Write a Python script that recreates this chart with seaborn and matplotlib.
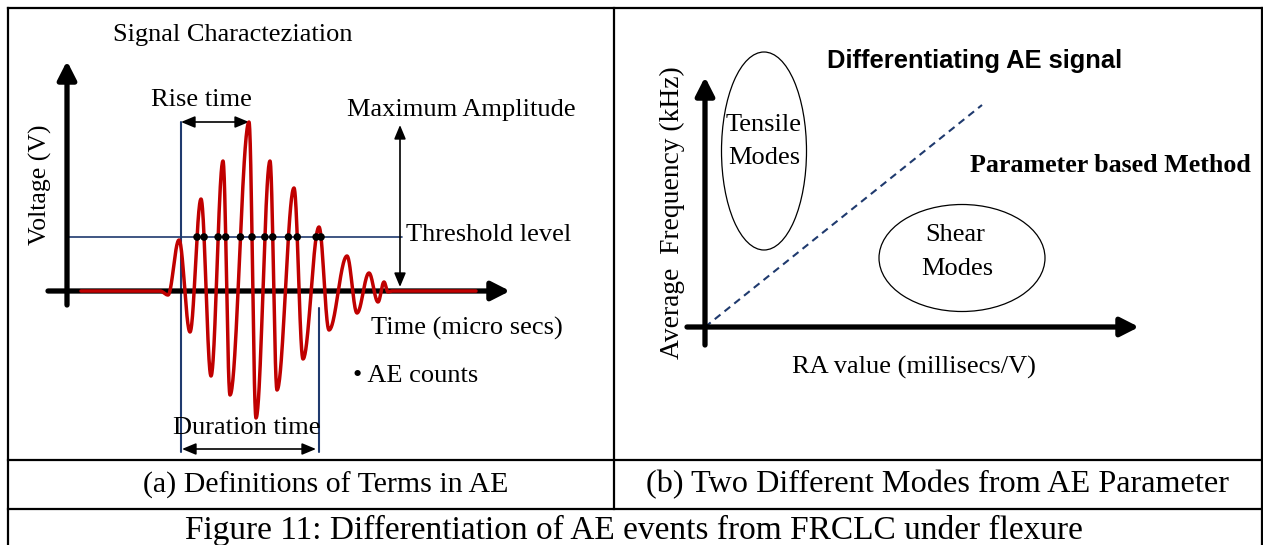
import numpy as np
import pandas as pd
import matplotlib
matplotlib.use("Agg")
import matplotlib.pyplot as plt
from matplotlib.patches import Ellipse
import seaborn as sns

# ---------------------------------------------------------------------------
# Panel (a): AE burst, turning points of the waveform (time in µs, volts)
burst_time = [1.4, 9.3, 10.1, 11.2, 12.3, 13.4, 14.4, 15.6, 16.3, 18.2, 18.9,
              20.3, 21.0, 22.7, 23.6, 25.2, 26.2, 28.0, 29.0, 30.2, 31.1,
              31.7, 32.1, 32.5, 40.9]
burst_volt = [0.0, 0.0, -0.4, 5.1, -4.1, 9.2, -8.5, 13.0, -10.4, 16.9, -12.7,
              13.0, -9.9, 10.3, -6.8, 6.4, -3.9, 3.5, -2.2, 1.8, -1.1,
              0.9, -0.1, 0.0, 0.0]
threshold = 5.4
rise_start = 11.4
duration_end = 25.2

# Panel (b): RA vs. average frequency regions
boundary_ra = [0.0, 27.7]
boundary_af = [0.0, 22.2]
tensile_centre, tensile_size = (5.9, 17.6), (8.5, 19.8)
shear_centre, shear_size = (25.7, 6.9), (16.6, 10.7)

# Captions
caption_a = "(a) Definitions of Terms in AE"
caption_b = "(b) Two Different Modes from AE Parameter"
figure_caption = "Figure 11: Differentiation of AE events from FRCLC under flexure"

# ---------------------------------------------------------------------------
sns.set_theme(style="white")
plt.rcParams["font.family"] = ["Liberation Serif", "DejaVu Serif"]
plt.rcParams["text.color"] = "black"

RED = "#c00000"
NAVY = "#1f3a6e"
W, H = 1263, 545
SERIF = 19


def smooth_burst(t, v, n=40):
    """Join turning points with half-cosine segments (flat at every extremum)."""
    ts, vs = [], []
    for i in range(len(t) - 1):
        s = np.linspace(0, 1, n, endpoint=False)
        ts.append(t[i] + (t[i + 1] - t[i]) * s)
        vs.append(v[i] + (v[i + 1] - v[i]) * (1 - np.cos(np.pi * s)) / 2)
    ts.append([t[-1]])
    vs.append([v[-1]])
    return np.concatenate(ts), np.concatenate(vs)


def arrow(ax, start, end, lw, both=False, scale=20, hl=0.5, hw=0.22, color="black"):
    style = "<|-|>" if both else "-|>"
    ax.annotate("", xy=end, xytext=start, annotation_clip=False,
                arrowprops=dict(arrowstyle=f"{style},head_length={hl},head_width={hw}",
                                lw=lw, color=color, mutation_scale=scale,
                                shrinkA=0, shrinkB=0))


fig = plt.figure(figsize=(W / 100, H / 100), dpi=100)

# Table frame around the two panels and the captions
frame = fig.add_axes([0, 0, 1, 1])
frame.set_xlim(0, W)
frame.set_ylim(H, 0)
frame.axis("off")
lk = dict(color="black", lw=1.6, solid_capstyle="projecting")
frame.plot([8, 1262], [8, 8], **lk)
frame.plot([8, 8], [8, H], **lk)
frame.plot([1262, 1262], [8, H], **lk)
frame.plot([8, 1262], [460, 460], **lk)
frame.plot([8, 1262], [509, 509], **lk)
frame.plot([614, 614], [8, 509], **lk)
frame.text(326, 485, caption_a, ha="center", va="center", fontsize=21.5)
frame.text(937, 485, caption_b, ha="center", va="center", fontsize=23.2)
frame.text(634, 530, figure_caption, ha="center", va="center", fontsize=24)

# ---------------------------------------------------------------------------
# Panel (a)
ax = fig.add_axes([8 / W, (H - 460) / H, (614 - 8) / W, (460 - 8) / H])

t_s, v_s = smooth_burst(burst_time, burst_volt)
wave = pd.DataFrame({"time": t_s, "volt": v_s})

# threshold crossings = AE counts
above = wave["volt"].to_numpy() > threshold
idx = np.where(above[1:] != above[:-1])[0]
t0, t1 = t_s[idx], t_s[idx + 1]
v0, v1 = v_s[idx], v_s[idx + 1]
cross = pd.DataFrame({"time": t0 + (threshold - v0) * (t1 - t0) / (v1 - v0),
                      "volt": threshold})

# axes arrows
arrow(ax, (-1.9, 0), (44.3, 0), lw=3.8, hl=0.55, hw=0.28)
arrow(ax, (0, -1.4), (0, 23.0), lw=3.8, hl=0.55, hw=0.28)

# threshold and timing guides
ax.plot([0, 33.5], [threshold, threshold], color=NAVY, lw=1.2)
ax.plot([rise_start, rise_start], [16.9, -16.1], color=NAVY, lw=1.5)
ax.plot([duration_end, duration_end], [-1.7, -16.1], color=NAVY, lw=1.5)

sns.lineplot(data=wave, x="time", y="volt", ax=ax, color=RED, lw=2.5,
             estimator=None, sort=False, zorder=4)
sns.scatterplot(data=cross, x="time", y="volt", ax=ax, color="black", s=30,
                edgecolor="none", zorder=5)
ax.set_xlim(-5.9, 54.7)
ax.set_ylim(-16.9, 28.3)
ax.axis("off")

# double arrows
peak_v = max(burst_volt)
peak_t = burst_time[int(np.argmax(burst_volt))]
arrow(ax, (rise_start, peak_v), (peak_t, peak_v),
      lw=1.2, both=True, scale=14, hl=0.6, hw=0.25)
arrow(ax, (33.3, 0.4), (33.3, 16.6), lw=1.2, both=True, scale=14, hl=0.6, hw=0.25)
arrow(ax, (rise_start + 0.1, -15.8), (duration_end - 0.3, -15.8), lw=1.2, both=True,
      scale=14, hl=0.6, hw=0.25)

ax.text(4.6, 25.6, "Signal Characteziation", fontsize=SERIF, ha="left", va="center")
ax.text(13.4, 19.1, "Rise time", fontsize=SERIF, ha="center", va="center")
ax.text(28.0, 18.1, "Maximum Amplitude", fontsize=SERIF, ha="left", va="center")
ax.text(33.9, 5.6, "Threshold level", fontsize=SERIF, ha="left", va="center")
ax.text(30.4, -3.7, "Time (micro secs)", fontsize=SERIF, ha="left", va="center")
ax.text(28.6, -8.5, "\u2022 AE counts", fontsize=SERIF, ha="left", va="center")
ax.text(18.0, -13.7, "Duration time", fontsize=SERIF, ha="center", va="center")
ax.text(-2.7, 10.6, "Voltage (V)", fontsize=18.5, ha="center", va="center",
        rotation=90)

# ---------------------------------------------------------------------------
# Panel (b)
bx = fig.add_axes([614 / W, (H - 460) / H, (1262 - 614) / W, (460 - 8) / H])
boundary = pd.DataFrame({"ra": boundary_ra, "af": boundary_af})
sns.lineplot(data=boundary, x="ra", y="af", ax=bx, color=NAVY, lw=1.5,
             linestyle=(0, (3.5, 2.5)), estimator=None, sort=False, zorder=3)
bx.set_xlim(-9.1, 55.7)
bx.set_ylim(-13.3, 31.9)
bx.axis("off")

arrow(bx, (-1.8, 0), (43.4, 0), lw=3.8, hl=0.55, hw=0.28)
arrow(bx, (0, -1.8), (0, 25.0), lw=3.8, hl=0.55, hw=0.28)

bx.add_patch(Ellipse(tensile_centre, *tensile_size, fill=False, ec="black", lw=0.9))
bx.add_patch(Ellipse(shear_centre, *shear_size, fill=False, ec="black", lw=0.9))

bx.text(5.9, 20.2, "Tensile", fontsize=SERIF, ha="center", va="center")
bx.text(5.9, 16.9, "Modes", fontsize=SERIF, ha="center", va="center")
bx.text(25.0, 9.2, "Shear", fontsize=SERIF, ha="center", va="center")
bx.text(25.2, 5.8, "Modes", fontsize=SERIF, ha="center", va="center")

bx.text(12.2, 26.6, "Differentiating AE signal", fontsize=18.4, fontweight="bold",
        family=["Liberation Sans", "DejaVu Sans"], ha="left", va="center")
bx.text(26.5, 16.2, "Parameter based Method", fontsize=18.7, fontweight="bold",
        ha="left", va="center")
bx.text(-3.3, 11.4, "Average  Frequency (kHz)", fontsize=19.8, ha="center",
        va="center", rotation=90)
bx.text(20.9, -4.0, "RA value (millisecs/V)", fontsize=SERIF, ha="center",
        va="center")

fig.savefig("out.png", dpi=100)
